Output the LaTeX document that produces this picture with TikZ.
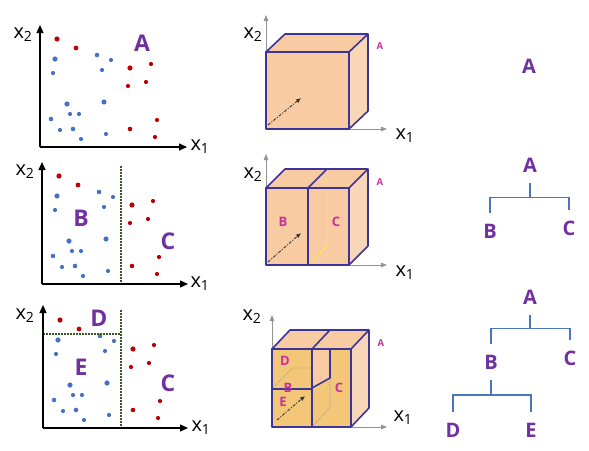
\documentclass[tikz,border=0pt]{standalone}
\usepackage{fontspec}
\setmainfont{Open Sans}
\usetikzlibrary{arrows.meta}

\definecolor{dotred}{HTML}{C00000}
\definecolor{dotblue}{HTML}{4472C4}
\definecolor{splitgreen}{HTML}{385723}
\definecolor{lettpurple}{HTML}{7030A0}
\definecolor{boxpink}{HTML}{C8309A}
\definecolor{peach}{HTML}{F8CBA2}
\definecolor{peachside}{HTML}{FAD6B8}
\definecolor{amber}{HTML}{F3C777}
\definecolor{cubeedge}{HTML}{3C3598}
\definecolor{treeblue}{HTML}{4A76C0}

% scatter points, relative to the corner of the axes
\newcommand{\reddots}{17/-108/2.6, 36/-99/2.4, 90/-79/2.6, 111/-83/2.1, 106/-65/2.1,
  88/-61/2.1, 117/-27/2.1, 90/-18/2.3, 115/-10/2.1}
\newcommand{\bluedots}{15/-88/2.6, 13/-74/2.1, 57/-92/2.3, 71/-87/2.1, 62/-77/2.1,
  27/-43/2.6, 64/-45/2.6, 30/-33/2.1, 39/-33/2.1, 11/-28/2.3, 20/-17/2.1,
  33/-18/2.3, 41/-8/2.1, 66/-13/2.1}
\newcommand{\scatterdots}{%
  \foreach \a/\b/\r in \reddots
    \fill [dotred] (\a,\b) circle (\r);
  \foreach \a/\b/\r in \bluedots
    \fill [dotblue] (\a,\b) circle (\r);
}

\begin{document}
\begin{tikzpicture}[x=1pt,y=-1pt,
  axis/.style={line width=1.2pt,-{Triangle[length=8pt,width=7pt]}},
  thinaxis/.style={gray!85,line width=0.8pt,-{Triangle[length=6pt,width=4.5pt]}},
  axlabel/.style={font=\fontsize{20}{24}\selectfont,inner sep=0pt},
  bigletter/.style={text=lettpurple,font=\fontsize{23}{26}\selectfont\bfseries,inner sep=0pt},
  split/.style={splitgreen,line width=1.6pt,dash pattern=on 1.6pt off 1.4pt},
  edge/.style={cubeedge,line width=1.6pt,line join=round},
  depth/.style={gray!40!black,line width=0.9pt,dash pattern=on 3pt off 1.5pt on 1pt off 1.5pt,-{Latex[length=5pt,width=4.5pt]}},
  hidden/.style={line width=0.9pt,dash pattern=on 1pt off 1pt},
  boxlabel/.style={text=boxpink,font=\fontsize{13}{14}\selectfont\bfseries,inner sep=0pt},
  tinylabel/.style={text=boxpink,font=\fontsize{9.5}{10}\selectfont\bfseries,inner sep=0pt},
  treenode/.style={text=lettpurple,font=\fontsize{20}{24}\selectfont\bfseries,inner sep=0pt,outer sep=11pt},
  treeline/.style={treeblue,line width=1.3pt}]
\useasboundingbox (0,0) rectangle (589,450);

% left column: scatter plots
\begin{scope}[shift={(40,147)}]
  \scatterdots
  \draw [axis] (0,0) -- (0,-122);
  \draw [axis] (0,0) -- (147,0);
  \node [axlabel] (p1x2) at (-17,-112) {x\textsubscript{2}};
  \node [axlabel] (p1x1) at (160,0) {x\textsubscript{1}};
  \node [bigletter] (p1A) at (102,-104) {A};
\end{scope}

\begin{scope}[shift={(42,284)}]
  \scatterdots
  \draw [split] (79,-118) -- (79,0);
  \draw [axis] (0,0) -- (0,-122);
  \draw [axis] (0,0) -- (146,0);
  \node [axlabel] (p2x2) at (-17,-112) {x\textsubscript{2}};
  \node [axlabel] (p2x1) at (158,0) {x\textsubscript{1}};
  \node [bigletter] (p2B) at (39,-66) {B};
  \node [bigletter] (p2C) at (126,-43) {C};
\end{scope}

\begin{scope}[shift={(43,428)}]
  \scatterdots
  \draw [split] (78,-118) -- (78,0);
  \draw [split] (0,-94) -- (78,-94);
  \draw [axis] (0,0) -- (0,-123);
  \draw [axis] (0,0) -- (145,0);
  \node [axlabel] (p3x2) at (-18,-112) {x\textsubscript{2}};
  \node [axlabel] (p3x1) at (158,0) {x\textsubscript{1}};
  \node [bigletter] (p3D) at (56,-110) {D};
  \node [bigletter] (p3E) at (38,-61) {E};
  \node [bigletter] (p3C) at (125,-45) {C};
\end{scope}

% middle column: boxes
\fill [peach] (266,52) rectangle (349,129);
\fill [peach] (266,52) -- (285,34) -- (368,34) -- (349,52) -- cycle;
\fill [peachside] (349,52) -- (368,34) -- (368,111) -- (349,129) -- cycle;
\draw [thinaxis] (266,129) -- (266,15);
\draw [thinaxis] (349,129) -- (387,129);
\draw [depth] (268,125) -- (301,98);
\draw [edge] (266,52) rectangle (349,129);
\draw [edge] (266,52) -- (285,34) -- (368,34) -- (368,111) -- (349,129);
\draw [edge] (349,52) -- (368,34);
\node [axlabel] (c1x2) at (253,35) {x\textsubscript{2}};
\node [axlabel] (c1x1) at (405,136) {x\textsubscript{1}};
\node [tinylabel] (c1A) at (380,46) {A};

\fill [peach] (266,188) rectangle (349,265);
\fill [peach] (266,188) -- (285,169) -- (368,169) -- (349,188) -- cycle;
\fill [peachside] (349,188) -- (368,169) -- (368,246) -- (349,265) -- cycle;
\draw [hidden,yellow!75] (327,169) -- (327,246) -- (308,265);
\draw [thinaxis] (266,265) -- (266,154);
\draw [thinaxis] (349,265) -- (387,265);
\draw [depth] (268,262) -- (301,233);
\draw [edge] (266,188) rectangle (349,265);
\draw [edge] (308,188) -- (308,265);
\draw [edge] (266,188) -- (285,169) -- (368,169) -- (368,246) -- (349,265);
\draw [edge] (349,188) -- (368,169);
\draw [edge] (308,188) -- (327,169);
\node [axlabel] (c2x2) at (253,175) {x\textsubscript{2}};
\node [axlabel] (c2x1) at (405,273) {x\textsubscript{1}};
\node [tinylabel] (c2A) at (380,182) {A};
\node [boxlabel] (c2B) at (283,222) {B};
\node [boxlabel] (c2C) at (336,222) {C};

\fill [amber] (272,349) rectangle (351,427);
\fill [peach] (312,349) -- (330,349) -- (330,378) -- (312,388) -- cycle;
\fill [peach] (272,349) -- (290,330) -- (369,330) -- (351,349) -- cycle;
\fill [peachside] (351,349) -- (369,330) -- (369,408) -- (351,427) -- cycle;
\draw [hidden,gray!70] (272,389) -- (292,368) -- (312,368);
\draw [hidden,gray!70] (330,378) -- (330,407) -- (312,427);
\draw [thinaxis] (272,427) -- (272,315);
\draw [thinaxis] (351,427) -- (387,427);
\draw [depth] (277,420) -- (305,396);
\draw [edge] (272,349) rectangle (351,427);
\draw [edge] (312,349) -- (312,427);
\draw [edge] (272,389) -- (312,389);
\draw [edge] (330,349) -- (330,378) -- (312,388);
\draw [edge] (272,349) -- (290,330) -- (369,330) -- (369,408) -- (351,427);
\draw [edge] (351,349) -- (369,330);
\draw [edge] (312,349) -- (330,330);
\node [axlabel] (c3x2) at (252,317) {x\textsubscript{2}};
\node [axlabel] (c3x1) at (403,418) {x\textsubscript{1}};
\node [tinylabel] (c3A) at (381,343) {A};
\node [boxlabel] (c3D) at (285,361) {D};
\node [boxlabel] (c3B) at (288,388) {B};
\node [boxlabel] (c3E) at (283,402) {E};
\node [boxlabel] (c3C) at (339,388) {C};

% right column: trees
\node [treenode] (t1A) at (529,66) {A};

\node [treenode] (t2A) at (530,165) {A};
\node [treenode] (t2B) at (490,231) {B};
\node [treenode] (t2C) at (569,228) {C};
\draw [treeline] (t2A.south) -- ++(0,14) -| (t2B.north);
\draw [treeline] (t2A.south) ++(0,14) -| (t2C.north);

\node [treenode] (t3A) at (530,297) {A};
\node [treenode] (t3B) at (491,362) {B};
\node [treenode] (t3C) at (570,358) {C};
\node [treenode] (t3D) at (453,430) {D};
\node [treenode] (t3E) at (531,430) {E};
\draw [treeline] (t3A.south) -- ++(0,13) -| (t3B.north);
\draw [treeline] (t3A.south) ++(0,13) -| (t3C.north);
\draw [treeline] (t3B.south) -- ++(0,15) -| (t3D.north);
\draw [treeline] (t3B.south) ++(0,15) -| (t3E.north);
\end{tikzpicture}
\end{document}
